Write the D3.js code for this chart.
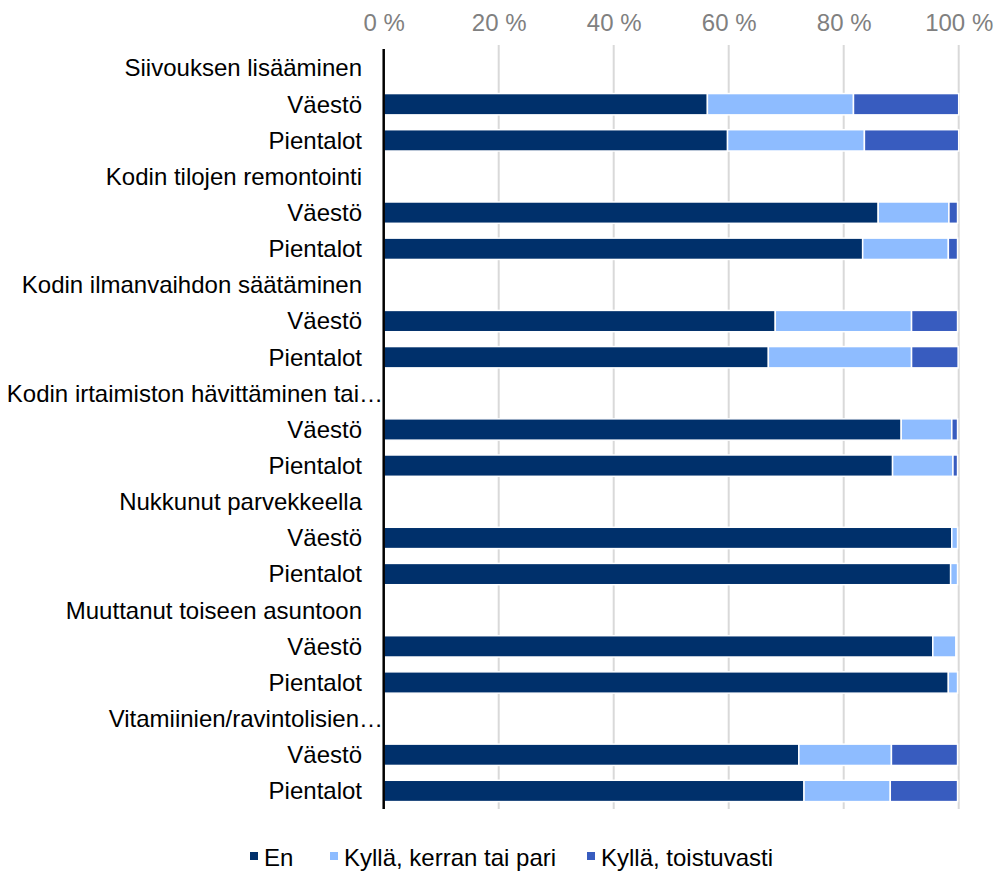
<!DOCTYPE html>
<html><head><meta charset="utf-8">
<script src="https://cdn.jsdelivr.net/npm/d3@7"></script>
<style>body{margin:0;background:#fff}svg{display:block}text{font-family:"Liberation Sans",Arial,sans-serif}</style>
</head><body><svg id="c" width="995" height="872"></svg>
<script>
const rows = ["Siivouksen lisääminen","Väestö","Pientalot","Kodin tilojen remontointi","Väestö","Pientalot","Kodin ilmanvaihdon säätäminen","Väestö","Pientalot","Kodin irtaimiston hävittäminen tai…","Väestö","Pientalot","Nukkunut parvekkeella","Väestö","Pientalot","Muuttanut toiseen asuntoon","Väestö","Pientalot","Vitamiinien/ravintolisien…","Väestö","Pientalot"];
const series = ["En","Kyllä, kerran tai pari","Kyllä, toistuvasti"];
const en        = [null,56.3,59.8,null,86.0,83.3,null,68.1,66.9,null,90.0,88.5,null,98.8,98.6,null,95.5,98.2,null,72.2,73.1];
const kerran    = [null,25.4,23.8,null,12.3,14.9,null,23.7,24.9,null,8.8,10.5,null,1.0,1.2,null,4.0,1.6,null,16.1,15.0];
const toistuva  = [null,18.3,16.4,null,1.5,1.6,null,8.0,8.1,null,1.0,0.8,null,0.0,0.0,null,0.0,0.0,null,11.5,11.7];
const ticks = [0,20,40,60,80,100];
const colors = ["#00306b","#8ebcff","#385cbf"];

const svg = d3.select("#c");
const x = d3.scaleLinear().domain([0,100]).range([383.7,958.7]);
const y = d3.scaleBand().domain(d3.range(rows.length)).range([50,809]).paddingInner(0.41).paddingOuter(0.205);

// gridlines
svg.append("g").selectAll("line").data(ticks.slice(1)).join("line")
  .attr("x1",d=>x(d)).attr("x2",d=>x(d)).attr("y1",45).attr("y2",809)
  .attr("stroke","#d9d9d9").attr("stroke-width",2);

// top axis labels
const ax = svg.append("g").attr("transform","translate(0,31)")
  .call(d3.axisTop(x).tickValues(ticks).tickSize(0).tickPadding(0).tickFormat(d=>d+" %"));
ax.select(".domain").remove();
ax.selectAll("text").attr("font-size",24).attr("fill","#808080").attr("font-family","Liberation Sans, Arial, sans-serif");

// bars
const data = rows.map((r,i)=>({i, vals:[en[i],kerran[i],toistuva[i]]}));
const g = svg.append("g");
data.forEach(d=>{
  if(d.vals[0]===null) return;
  let acc=0;
  d.vals.forEach((v,k)=>{
    if(v>0){
      g.append("rect").attr("x",x(acc)).attr("y",y(d.i)).attr("width",x(acc+v)-x(acc)).attr("height",y.bandwidth())
        .attr("fill",colors[k]).attr("stroke","#fff").attr("stroke-width",1.5);
    }
    acc+=v;
  });
});

// category labels
svg.append("g").selectAll("text").data(rows).join("text")
  .attr("x",(d)=>d.endsWith("…")?383:362).attr("y",(d,i)=>y(i)+y.bandwidth()/2).attr("dy","0.35em")
  .attr("text-anchor","end").attr("font-size",24).attr("fill","#000").text(d=>d);

// axis line
svg.append("line").attr("x1",383.7).attr("x2",383.7).attr("y1",49).attr("y2",809).attr("stroke","#000").attr("stroke-width",2.5);

// legend
const lx=[250,330,587];
const lg = svg.append("g");
series.forEach((s,k)=>{
  lg.append("rect").attr("x",lx[k]).attr("y",852).attr("width",8).attr("height",8).attr("fill",colors[k]);
  lg.append("text").attr("x",lx[k]+14).attr("y",858).attr("dy","0.35em").attr("font-size",24).attr("fill","#000").text(s);
});
</script></body></html>
